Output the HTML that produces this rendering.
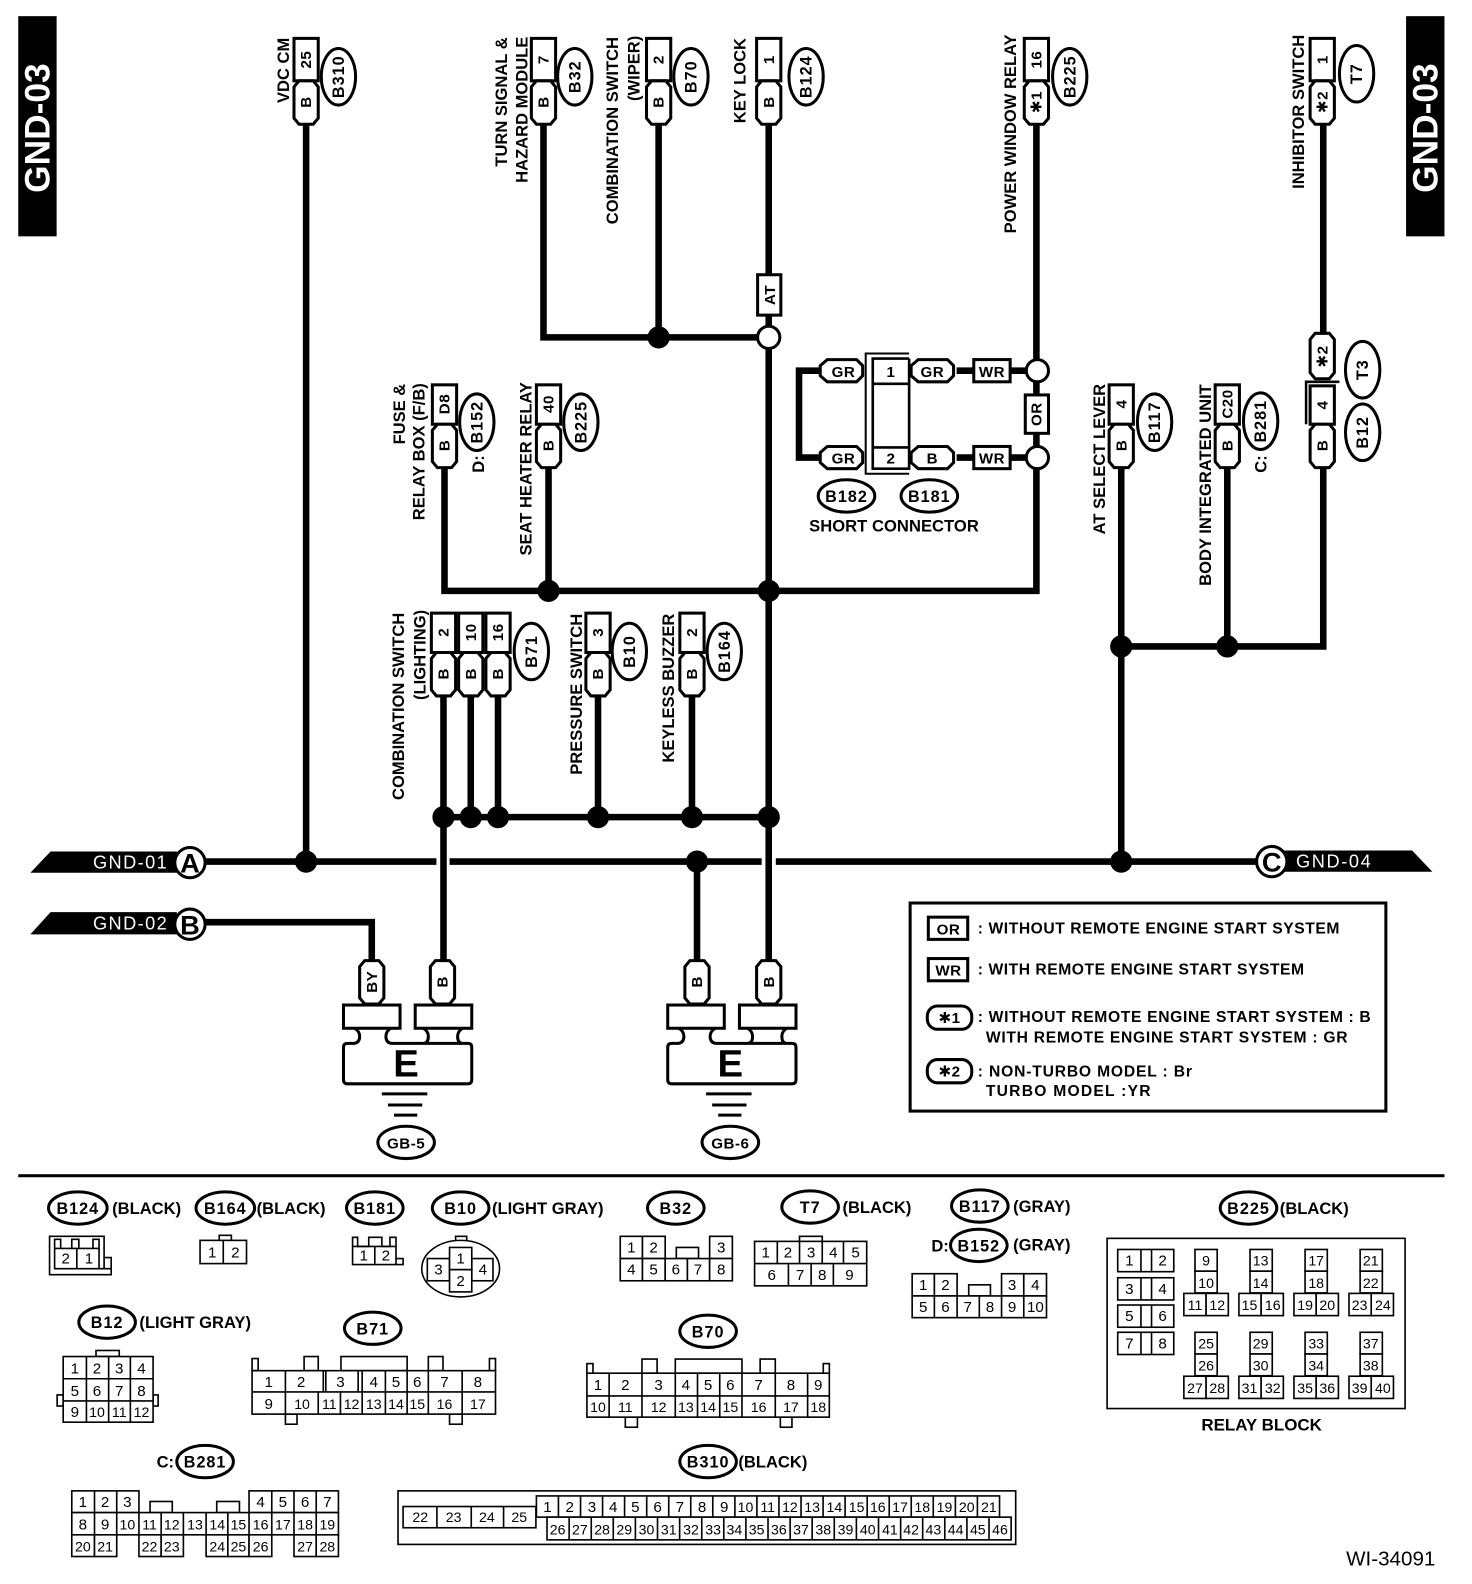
<!DOCTYPE html>
<html><head><meta charset="utf-8"><style>
html,body{margin:0;padding:0;background:#fff}
svg{display:block}
text{font-family:"Liberation Sans","DejaVu Sans",sans-serif;font-weight:bold;font-size:16.4px;fill:#000}
.c{text-anchor:middle}
.b{font-size:15px;letter-spacing:.5px;text-anchor:middle}
.k{font-size:16px;letter-spacing:1px;text-anchor:middle}
.n{font-weight:normal;font-size:15px;text-anchor:middle}
.s{font-weight:normal;font-size:14px;text-anchor:middle}
.w{fill:#fff}
.wr{fill:none;stroke:#000;stroke-width:6.5}
.sh{fill:#fff;stroke:#000;stroke-width:3}
.e{fill:#fff;stroke:#000;stroke-width:3}
.g rect,.g path,.g ellipse{fill:#fff;stroke:#000;stroke-width:1.6}
.g path.o{fill:none}
</style></head><body>
<svg width="1472" height="1584" viewBox="0 0 1457.2 1568.2" xmlns="http://www.w3.org/2000/svg">
<defs>
<path id="p" class="sh" d="M-7 0H7L12 6V37L7 43H-7L-12 37V6Z"/>
<g id="cn"><rect class="sh" x="-12" y="0" width="24" height="42"/><use href="#p" y="42"/></g>
<g id="cn2"><rect class="sh" x="-12" y="0" width="24" height="39"/><use href="#p" y="39"/></g>
<g id="gr">
<path fill="#fff" stroke="#000" stroke-width="3" d="M349 1033H344Q340 1033 340 1037V1069Q340 1073 344 1073H463Q467 1073 467 1069V1037Q467 1033 463 1033H389Q382 1033 382 1026Q382 1021 387 1018M349 1033Q356 1033 356 1026Q356 1021 351 1018M419 1018Q424 1021 424 1026Q424 1033 419 1033M458 1018Q453 1021 453 1026Q453 1033 458 1033"/>
<rect class="sh" x="340" y="995" width="56" height="23"/><rect class="sh" x="411" y="995" width="56" height="23"/>
<path stroke="#000" stroke-width="3" d="M378 1083H423M384 1094H418M390 1104H413"/>
<ellipse class="e" cx="402" cy="1131" rx="28" ry="16"/>
</g>
<g id="rt" class="g"><rect x="11" y="0" width="22" height="21.5"/><rect x="11" y="21.5" width="22" height="21.5"/><rect x="0" y="43.5" width="22" height="22"/><rect x="22" y="43.5" width="22" height="22"/></g>
<g id="rp" class="g"><rect x="0" y="0" width="55.5" height="22"/><path d="M23 0V22M33.500 0V22"/></g>
</defs>

<!-- side tabs -->
<rect x="18" y="16" width="38" height="218" fill="#000"/>
<rect x="1392" y="16" width="38" height="218" fill="#000"/>
<text class="w" style="font-size:35px" transform="translate(49,191)rotate(-90)">GND-03</text>
<text class="w" style="font-size:35px" transform="translate(1423,191)rotate(-90)">GND-03</text>

<!-- wires -->
<g class="wr">
<path d="M303 120V853"/>
<path d="M538 120V334H752"/>
<path d="M652 120V334"/>
<path d="M761 120V950"/>
<path d="M1026 120V585H440V460"/>
<path d="M543 460V585"/>
<path d="M812 367H791V453H812"/>
<path d="M947 367H964M1000 367H1016M947 453H964M1000 453H1016"/>
<path d="M439 688V950"/>
<path d="M466 688V809M493 688V809M592 688V809M685 688V809"/>
<path d="M439 809H761"/>
<path d="M203 853H432M445 853H754M768 853H1245"/>
<path d="M690 853V950"/>
<path d="M1110 460V853M1215 460V640M1310 120V335M1310 460V640H1110"/>
<path d="M203 913H368V950"/>
</g>
<g fill="#000">
<circle cx="303" cy="853" r="11"/><circle cx="652" cy="334" r="11"/><circle cx="543" cy="585" r="11"/><circle cx="761" cy="585" r="11"/>
<circle cx="439" cy="809" r="11"/><circle cx="466" cy="809" r="11"/><circle cx="493" cy="809" r="11"/><circle cx="592" cy="809" r="11"/><circle cx="685" cy="809" r="11"/><circle cx="761" cy="809" r="11"/>
<circle cx="690" cy="853" r="11"/><circle cx="1110" cy="853" r="11"/><circle cx="1110" cy="640" r="11"/><circle cx="1215" cy="640" r="11"/>
</g>
<circle class="sh" cx="761" cy="334" r="11"/><circle class="sh" cx="1027" cy="367" r="11"/><circle class="sh" cx="1027" cy="453" r="11"/>
<rect class="sh" x="750" y="272" width="23" height="40"/>
<text class="b" transform="translate(767,292)rotate(-90)">AT</text>
<rect class="sh" x="1015" y="391" width="23" height="38"/>
<text class="b" transform="translate(1031,410)rotate(-90)">OR</text>

<!-- top connectors -->
<use href="#cn" x="303" y="38"/><use href="#cn" x="538" y="38"/><use href="#cn" x="652" y="38"/><use href="#cn" x="761" y="38"/><use href="#cn" x="1026" y="38"/><use href="#cn" x="1309" y="38"/>
<use href="#cn2" x="440" y="381"/><use href="#cn2" x="543" y="381"/><use href="#cn2" x="1110" y="381"/><use href="#cn2" x="1215" y="381"/>
<use href="#cn2" x="439" y="607"/><use href="#cn2" x="466" y="607"/><use href="#cn2" x="493" y="607"/><use href="#cn2" x="592" y="607"/><use href="#cn2" x="685" y="607"/>
<g>
<text class="b" transform="translate(308,59)rotate(-90)">25</text><text class="b" transform="translate(308,101)rotate(-90)">B</text>
<text class="b" transform="translate(543,59)rotate(-90)">7</text><text class="b" transform="translate(543,101)rotate(-90)">B</text>
<text class="b" transform="translate(657,59)rotate(-90)">2</text><text class="b" transform="translate(657,101)rotate(-90)">B</text>
<text class="b" transform="translate(766,59)rotate(-90)">1</text><text class="b" transform="translate(766,101)rotate(-90)">B</text>
<text class="b" transform="translate(1031,59)rotate(-90)">16</text><text class="b" transform="translate(1031,101)rotate(-90)">✱1</text>
<text class="b" transform="translate(1314,59)rotate(-90)">1</text><text class="b" transform="translate(1314,101)rotate(-90)">✱2</text>
<text class="b" transform="translate(445,400)rotate(-90)">D8</text><text class="b" transform="translate(445,441)rotate(-90)">B</text>
<text class="b" transform="translate(548,400)rotate(-90)">40</text><text class="b" transform="translate(548,441)rotate(-90)">B</text>
<text class="b" transform="translate(1115,400)rotate(-90)">4</text><text class="b" transform="translate(1115,441)rotate(-90)">B</text>
<text class="b" transform="translate(1220,400)rotate(-90)">C20</text><text class="b" transform="translate(1220,441)rotate(-90)">B</text>
<text class="b" transform="translate(444,626)rotate(-90)">2</text><text class="b" transform="translate(444,667)rotate(-90)">B</text>
<text class="b" transform="translate(471,626)rotate(-90)">10</text><text class="b" transform="translate(471,667)rotate(-90)">B</text>
<text class="b" transform="translate(498,626)rotate(-90)">16</text><text class="b" transform="translate(498,667)rotate(-90)">B</text>
<text class="b" transform="translate(597,626)rotate(-90)">3</text><text class="b" transform="translate(597,667)rotate(-90)">B</text>
<text class="b" transform="translate(690,626)rotate(-90)">2</text><text class="b" transform="translate(690,667)rotate(-90)">B</text>
</g>
<!-- T3 / B12 stack -->
<path class="sh" d="M1302 330H1316L1321 336V369L1316 375H1302L1297 369V336Z"/>
<text class="b" transform="translate(1314,353)rotate(-90)">✱2</text>
<path d="M1293 420V378H1326" fill="none" stroke="#000" stroke-width="2.5"/>
<rect class="sh" x="1297" y="382" width="24" height="38"/>
<use href="#p" x="1309" y="420"/>
<text class="b" transform="translate(1314,401)rotate(-90)">4</text><text class="b" transform="translate(1314,441)rotate(-90)">B</text>

<!-- rotated labels -->
<text transform="translate(286,102)rotate(-90)">VDC CM</text>
<text transform="translate(502,165)rotate(-90)">TURN SIGNAL &amp;</text>
<text transform="translate(522,181)rotate(-90)">HAZARD MODULE</text>
<text transform="translate(612,222)rotate(-90)">COMBINATION SWITCH</text>
<text transform="translate(633,100)rotate(-90)">(WIPER)</text>
<text transform="translate(738,122)rotate(-90)">KEY LOCK</text>
<text transform="translate(1006,231)rotate(-90)">POWER WINDOW RELAY</text>
<text transform="translate(1291,187)rotate(-90)">INHIBITOR SWITCH</text>
<text transform="translate(401,440)rotate(-90)">FUSE &amp;</text>
<text transform="translate(420,515)rotate(-90)">RELAY BOX (F/B)</text>
<text transform="translate(526,550)rotate(-90)">SEAT HEATER RELAY</text>
<text transform="translate(400,792)rotate(-90)">COMBINATION SWITCH</text>
<text transform="translate(421,693)rotate(-90)">(LIGHTING)</text>
<text transform="translate(576,767)rotate(-90)">PRESSURE SWITCH</text>
<text transform="translate(667,755)rotate(-90)">KEYLESS BUZZER</text>
<text transform="translate(1094,529)rotate(-90)">AT SELECT LEVER</text>
<text transform="translate(1199,580)rotate(-90)">BODY INTEGRATED UNIT</text>
<text transform="translate(479,468)rotate(-90)">D:</text>
<text transform="translate(1254,468)rotate(-90)">C:</text>

<!-- vertical ellipses -->
<g>
<ellipse class="e" cx="335" cy="76" rx="17" ry="28"/><text class="k" transform="translate(340.500,76)rotate(-90)">B310</text>
<ellipse class="e" cx="569" cy="76" rx="17" ry="28"/><text class="k" transform="translate(574.500,76)rotate(-90)">B32</text>
<ellipse class="e" cx="684" cy="76" rx="17" ry="28"/><text class="k" transform="translate(689.500,76)rotate(-90)">B70</text>
<ellipse class="e" cx="798" cy="76" rx="17" ry="28"/><text class="k" transform="translate(803.500,76)rotate(-90)">B124</text>
<ellipse class="e" cx="1059" cy="76" rx="17" ry="28"/><text class="k" transform="translate(1064.500,76)rotate(-90)">B225</text>
<ellipse class="e" cx="1343" cy="73" rx="17" ry="28"/><text class="k" transform="translate(1348.500,73)rotate(-90)">T7</text>
<ellipse class="e" cx="472" cy="418" rx="17" ry="28"/><text class="k" transform="translate(477.500,418)rotate(-90)">B152</text>
<ellipse class="e" cx="575" cy="418" rx="17" ry="28"/><text class="k" transform="translate(580.500,418)rotate(-90)">B225</text>
<ellipse class="e" cx="526" cy="645" rx="17" ry="28"/><text class="k" transform="translate(531.500,645)rotate(-90)">B71</text>
<ellipse class="e" cx="623" cy="645" rx="17" ry="28"/><text class="k" transform="translate(628.500,645)rotate(-90)">B10</text>
<ellipse class="e" cx="717" cy="645" rx="17" ry="28"/><text class="k" transform="translate(722.500,645)rotate(-90)">B164</text>
<ellipse class="e" cx="1143" cy="418" rx="17" ry="28"/><text class="k" transform="translate(1148.500,418)rotate(-90)">B117</text>
<ellipse class="e" cx="1248" cy="417" rx="17" ry="28"/><text class="k" transform="translate(1253.500,417)rotate(-90)">B281</text>
<ellipse class="e" cx="1349" cy="366" rx="17" ry="28"/><text class="k" transform="translate(1354.500,366)rotate(-90)">T3</text>
<ellipse class="e" cx="1349" cy="428" rx="17" ry="28"/><text class="k" transform="translate(1354.500,428)rotate(-90)">B12</text>
</g>

<!-- short connector -->
<path class="sh" d="M819 356H848L854 362V372L848 378H819L812 372V362Z"/>
<path class="sh" d="M819 442H848L854 448V458L848 464H819L812 458V448Z"/>
<path class="sh" d="M909 356H938L944 362V372L938 378H909L902 372V362Z"/>
<path class="sh" d="M909 442H938L944 448V458L938 464H909L902 458V448Z"/>
<rect class="sh" x="964" y="356" width="36" height="22"/><rect class="sh" x="964" y="442" width="36" height="22"/>
<path d="M900 350H857V469H900" fill="none" stroke="#000" stroke-width="2"/>
<path d="M900 355H864V464H900V355M864 380H900M864 443H900" fill="#fff" stroke="#000" stroke-width="2.6"/>
<text class="b" x="835" y="373">GR</text><text class="b" x="835" y="459">GR</text>
<text class="b" x="882" y="373">1</text><text class="b" x="882" y="459">2</text>
<text class="b" x="923" y="373">GR</text><text class="b" x="923" y="459">B</text>
<text class="b" x="982" y="373">WR</text><text class="b" x="982" y="459">WR</text>
<ellipse class="e" cx="838" cy="491" rx="28" ry="16"/><text class="k" x="838" y="497">B182</text>
<ellipse class="e" cx="920" cy="491" rx="28" ry="16"/><text class="k" x="920" y="497">B181</text>
<text class="c" x="885" y="526" textLength="168">SHORT CONNECTOR</text>

<!-- bus tags -->
<path d="M30 864L50 843H175V864Z" fill="#000"/>
<text class="w" x="92" y="860" textLength="73" style="font-weight:normal;font-size:18px">GND-01</text>
<circle class="sh" cx="188" cy="854" r="15"/><text class="c" x="188" y="864" style="font-size:27px">A</text>
<path d="M30 925L50 903H175V925Z" fill="#000"/>
<text class="w" x="92" y="920" textLength="73" style="font-weight:normal;font-size:18px">GND-02</text>
<circle class="sh" cx="188" cy="915" r="15"/><text class="c" x="188" y="925" style="font-size:27px">B</text>
<path d="M1265 842H1398L1418 863H1265Z" fill="#000"/>
<text class="w" x="1283" y="859" textLength="74" style="font-weight:normal;font-size:18px">GND-04</text>
<circle class="sh" cx="1259" cy="853" r="15"/><text class="c" x="1259" y="863" style="font-size:27px">C</text>

<!-- grounds -->
<use href="#gr"/><use href="#gr" x="321"/>
<use href="#p" x="368" y="951"/><use href="#p" x="438" y="951"/><use href="#p" x="690" y="951"/><use href="#p" x="761" y="951"/>
<text class="b" transform="translate(373,972)rotate(-90)">BY</text>
<text class="b" transform="translate(443,972)rotate(-90)">B</text>
<text class="b" transform="translate(695,972)rotate(-90)">B</text>
<text class="b" transform="translate(766,972)rotate(-90)">B</text>
<text class="c" x="402" y="1066" style="font-size:38px">E</text>
<text class="c" x="723" y="1066" style="font-size:38px">E</text>
<text class="b" x="402" y="1137">GB-5</text>
<text class="b" x="723" y="1137">GB-6</text>

<!-- legend -->
<rect x="901" y="894" width="471" height="206" fill="#fff" stroke="#000" stroke-width="3"/>
<rect class="sh" x="919" y="908" width="39" height="22"/><text class="b" x="939" y="925">OR</text>
<rect class="sh" x="919" y="949" width="39" height="22"/><text class="b" x="939" y="966">WR</text>
<rect class="sh" x="918" y="996" width="44" height="23" rx="10"/><text class="b" x="940" y="1013">✱1</text>
<rect class="sh" x="918" y="1049" width="44" height="23" rx="10"/><text class="b" x="940" y="1066">✱2</text>
<text x="968" y="924" textLength="358" style="font-size:15.500px">: WITHOUT REMOTE ENGINE START SYSTEM</text>
<text x="968" y="965" textLength="323" style="font-size:15.500px">: WITH REMOTE ENGINE START SYSTEM</text>
<text x="968" y="1012" textLength="389" style="font-size:15.500px">: WITHOUT REMOTE ENGINE START SYSTEM  : B</text>
<text x="976" y="1032" textLength="358" style="font-size:15.500px">WITH REMOTE ENGINE START SYSTEM  : GR</text>
<text x="968" y="1066" textLength="212" style="font-size:15.500px">: NON-TURBO MODEL  : Br</text>
<text x="976" y="1085" textLength="163" style="font-size:15.500px">TURBO MODEL  :YR</text>

<rect x="18" y="1162.500" width="1412" height="3" fill="#000"/>

<!-- bottom labels -->
<ellipse class="e" cx="77" cy="1196" rx="29" ry="16"/><text class="k" x="77" y="1202">B124</text><text x="111" y="1202">(BLACK)</text>
<ellipse class="e" cx="223" cy="1196" rx="29" ry="16"/><text class="k" x="223" y="1202">B164</text><text x="254" y="1202">(BLACK)</text>
<ellipse class="e" cx="371" cy="1196" rx="28" ry="16"/><text class="k" x="371" y="1202">B181</text>
<ellipse class="e" cx="456" cy="1196" rx="28" ry="16"/><text class="k" x="456" y="1202">B10</text><text x="487" y="1202">(LIGHT GRAY)</text>
<ellipse class="e" cx="669" cy="1196" rx="28" ry="16"/><text class="k" x="669" y="1202">B32</text>
<ellipse class="e" cx="802" cy="1195" rx="28" ry="16"/><text class="k" x="802" y="1201">T7</text><text x="834" y="1201">(BLACK)</text>
<ellipse class="e" cx="970" cy="1194" rx="28" ry="16"/><text class="k" x="970" y="1200">B117</text><text x="1003" y="1200">(GRAY)</text>
<text x="922" y="1239">D:</text><ellipse class="e" cx="969" cy="1233" rx="28" ry="16"/><text class="k" x="969" y="1239">B152</text><text x="1003" y="1238">(GRAY)</text>
<ellipse class="e" cx="1236" cy="1196" rx="28" ry="16"/><text class="k" x="1236" y="1202">B225</text><text x="1267" y="1202">(BLACK)</text>
<ellipse class="e" cx="106" cy="1309" rx="28" ry="16"/><text class="k" x="106" y="1315">B12</text><text x="138" y="1315">(LIGHT GRAY)</text>
<ellipse class="e" cx="369" cy="1315" rx="28" ry="16"/><text class="k" x="369" y="1321">B71</text>
<ellipse class="e" cx="701" cy="1318" rx="28" ry="16"/><text class="k" x="701" y="1324">B70</text>
<text x="155" y="1453">C:</text><ellipse class="e" cx="203" cy="1447" rx="28" ry="16"/><text class="k" x="203" y="1453">B281</text>
<ellipse class="e" cx="701" cy="1447" rx="28" ry="16"/><text class="k" x="701" y="1453">B310</text><text x="731" y="1453">(BLACK)</text>
<text class="c" x="1249" y="1416" style="font-size:16.800px">RELAY BLOCK</text>
<text x="1421" y="1550" style="font-weight:normal;font-size:20.400px;text-anchor:end">WI-34091</text>

<!-- B124 -->
<g class="g">
<path d="M49 1224H103V1245H110V1262H49Z"/>
<path class="o" d="M54 1236V1227H60V1236M71 1236V1227H78V1236M92 1236V1227H98V1236M98 1236V1256H110M98 1256H54V1236H98M76 1236V1256M103 1245V1256"/>
</g>
<text class="n" x="65" y="1251">2</text><text class="n" x="88" y="1251">1</text>
<!-- B164 -->
<g class="g"><rect x="217" y="1223" width="12" height="6"/><rect x="198" y="1228" width="46" height="23"/><path d="M221 1228V1251"/></g>
<text class="n" x="210" y="1245">1</text><text class="n" x="233" y="1245">2</text>
<!-- B181 -->
<g class="g"><path d="M349 1225H354V1234H365V1225H378V1234H386V1225H392V1246H399V1252H349Z"/><path class="o" d="M349 1234H392M371 1234V1252M392 1246V1252"/></g>
<text class="n" x="360" y="1248">1</text><text class="n" x="382" y="1248">2</text>
<!-- B10 -->
<g class="g"><rect x="451" y="1224" width="11" height="6"/><ellipse cx="456" cy="1256" rx="38.500" ry="28"/><rect x="423" y="1246" width="22" height="22"/><rect x="467" y="1246" width="21" height="22"/><rect x="445" y="1235" width="22" height="22"/><rect x="445" y="1257" width="22" height="22"/></g>
<text class="n" x="434" y="1262">3</text><text class="n" x="456" y="1251">1</text><text class="n" x="456" y="1273">2</text><text class="n" x="478" y="1262">4</text>
<!-- B32 -->
<g class="g"><rect x="669.500" y="1235" width="22" height="11"/><rect x="614" y="1224" width="22" height="22"/><rect x="636" y="1224" width="22.500" height="22"/><rect x="702.500" y="1224" width="22.500" height="22"/>
<rect x="614" y="1246" width="22" height="22"/><rect x="636" y="1246" width="22.500" height="22"/><rect x="658.500" y="1246" width="22" height="22"/><rect x="680.500" y="1246" width="22" height="22"/><rect x="702.500" y="1246" width="22.500" height="22"/></g>
<text class="n" x="625" y="1240">1</text><text class="n" x="647" y="1240">2</text><text class="n" x="714" y="1240">3</text><text class="n" x="625" y="1262">4</text><text class="n" x="647" y="1262">5</text><text class="n" x="669" y="1262">6</text><text class="n" x="691" y="1262">7</text><text class="n" x="714" y="1262">8</text>
<!-- T7 -->
<g class="g"><rect x="791.500" y="1224" width="22.500" height="6"/><rect x="747" y="1229" width="111" height="44"/><path d="M747 1251H858M769.500 1229V1251M791.500 1229V1251M814 1229V1251M835 1229V1251M780.500 1251V1273M803 1251V1273M825 1251V1273"/></g>
<text class="n" x="758" y="1245">1</text><text class="n" x="780" y="1245">2</text><text class="n" x="803" y="1245">3</text><text class="n" x="825" y="1245">4</text><text class="n" x="847" y="1245">5</text>
<text class="n" x="764" y="1267">6</text><text class="n" x="792" y="1267">7</text><text class="n" x="814" y="1267">8</text><text class="n" x="841" y="1267">9</text>
<!-- B152 -->
<g class="g"><rect x="959" y="1272" width="21.500" height="11"/><rect x="903" y="1261" width="22" height="22"/><rect x="925" y="1261" width="22.500" height="22"/><rect x="991.500" y="1261" width="22" height="22"/><rect x="1013.500" y="1261" width="22.500" height="22"/>
<rect x="903" y="1283" width="133" height="21.500"/><path d="M925 1283V1304.500M947.500 1283V1304.500M969.500 1283V1304.500M991.500 1283V1304.500M1013.500 1283V1304.500"/></g>
<text class="n" x="914" y="1277">1</text><text class="n" x="936" y="1277">2</text><text class="n" x="1002" y="1277">3</text><text class="n" x="1025" y="1277">4</text>
<text class="n" x="914" y="1299">5</text><text class="n" x="936" y="1299">6</text><text class="n" x="958" y="1299">7</text><text class="n" x="980" y="1299">8</text><text class="n" x="1002" y="1299">9</text><text class="n" x="1025" y="1299">10</text>
<!-- Relay block -->
<g class="g"><rect x="1096" y="1226" width="295" height="168.500"/></g>
<use href="#rp" x="1106.500" y="1237"/><use href="#rp" x="1106.500" y="1265"/><use href="#rp" x="1106.500" y="1292"/><use href="#rp" x="1106.500" y="1319"/>
<use href="#rt" x="1172" y="1237"/><use href="#rt" x="1226.500" y="1237"/><use href="#rt" x="1281" y="1237"/><use href="#rt" x="1335.500" y="1237"/>
<use href="#rt" x="1172" y="1319"/><use href="#rt" x="1226.500" y="1319"/><use href="#rt" x="1281" y="1319"/><use href="#rt" x="1335.500" y="1319"/>
<text class="n" x="1118" y="1253">1</text><text class="n" x="1151" y="1253">2</text><text class="n" x="1118" y="1281">3</text><text class="n" x="1151" y="1281">4</text><text class="n" x="1118" y="1308">5</text><text class="n" x="1151" y="1308">6</text><text class="n" x="1118" y="1335">7</text><text class="n" x="1151" y="1335">8</text>
<g>
<text class="s" x="1194" y="1253">9</text><text class="s" x="1194" y="1275">10</text><text class="s" x="1183" y="1297">11</text><text class="s" x="1205" y="1297">12</text>
<text class="s" x="1248" y="1253">13</text><text class="s" x="1248" y="1275">14</text><text class="s" x="1237" y="1297">15</text><text class="s" x="1260" y="1297">16</text>
<text class="s" x="1303" y="1253">17</text><text class="s" x="1303" y="1275">18</text><text class="s" x="1292" y="1297">19</text><text class="s" x="1314" y="1297">20</text>
<text class="s" x="1357" y="1253">21</text><text class="s" x="1357" y="1275">22</text><text class="s" x="1346" y="1297">23</text><text class="s" x="1369" y="1297">24</text>
<text class="s" x="1194" y="1335">25</text><text class="s" x="1194" y="1357">26</text><text class="s" x="1183" y="1379">27</text><text class="s" x="1205" y="1379">28</text>
<text class="s" x="1248" y="1335">29</text><text class="s" x="1248" y="1357">30</text><text class="s" x="1237" y="1379">31</text><text class="s" x="1260" y="1379">32</text>
<text class="s" x="1303" y="1335">33</text><text class="s" x="1303" y="1357">34</text><text class="s" x="1292" y="1379">35</text><text class="s" x="1314" y="1379">36</text>
<text class="s" x="1357" y="1335">37</text><text class="s" x="1357" y="1357">38</text><text class="s" x="1346" y="1379">39</text><text class="s" x="1369" y="1379">40</text>
</g>
<!-- B12 -->
<g class="g"><rect x="95" y="1337" width="23" height="6"/><rect x="56.500" y="1381" width="6" height="11"/><rect x="151.500" y="1381" width="5" height="11"/><rect x="62.500" y="1343" width="89" height="65"/><path d="M62.500 1365H151.500M62.500 1387H151.500M85.500 1343V1408M107.500 1343V1408M129 1343V1408"/></g>
<text class="n" x="74" y="1360">1</text><text class="n" x="96" y="1360">2</text><text class="n" x="118" y="1360">3</text><text class="n" x="140" y="1360">4</text>
<text class="n" x="74" y="1382">5</text><text class="n" x="96" y="1382">6</text><text class="n" x="118" y="1382">7</text><text class="n" x="140" y="1382">8</text>
<text class="n" x="74" y="1403">9</text><text class="s" x="96" y="1403">10</text><text class="s" x="118" y="1403">11</text><text class="s" x="140" y="1403">12</text>
<!-- B71 -->
<g class="g"><rect x="249.500" y="1345" width="6" height="12"/><rect x="484.500" y="1345" width="6" height="12"/><rect x="301" y="1343" width="14" height="14"/><rect x="337.500" y="1343" width="65.500" height="14"/><rect x="424" y="1343" width="14.500" height="14"/>
<rect x="282.500" y="1400" width="11.500" height="10"/><rect x="445" y="1400" width="12.500" height="10"/>
<rect x="249.500" y="1357" width="241" height="43"/>
<path d="M249.500 1378H490.500M282.500 1357V1400M320 1357V1378M322.500 1357V1378M354.500 1357V1378M358.500 1357V1400M381.500 1357V1400M403 1357V1400M424 1357V1400M457.500 1357V1400M315 1378V1400M337 1378V1400"/></g>
<text class="n" x="266" y="1373">1</text><text class="n" x="298" y="1373">2</text><text class="n" x="337" y="1373">3</text><text class="n" x="370" y="1373">4</text><text class="n" x="392" y="1373">5</text><text class="n" x="413" y="1373">6</text><text class="n" x="440" y="1373">7</text><text class="n" x="473" y="1373">8</text>
<text class="n" x="266" y="1395">9</text><text class="s" x="299" y="1395">10</text><text class="s" x="326" y="1395">11</text><text class="s" x="348" y="1395">12</text><text class="s" x="370" y="1395">13</text><text class="s" x="392" y="1395">14</text><text class="s" x="413" y="1395">15</text><text class="s" x="440" y="1395">16</text><text class="s" x="473" y="1395">17</text>
<!-- B70 -->
<g class="g"><rect x="581" y="1350" width="6" height="10"/><rect x="815" y="1350" width="6" height="10"/><rect x="635.500" y="1345.500" width="15" height="14"/><rect x="668.500" y="1345.500" width="66" height="14"/><rect x="752.500" y="1345.500" width="15" height="14"/>
<rect x="619" y="1403" width="12" height="10"/><rect x="772.500" y="1403" width="11.500" height="10"/>
<rect x="581" y="1359.500" width="240" height="43.500"/>
<path d="M581 1382H821M603 1359.500V1403M635.500 1359.500V1403M668.500 1359.500V1403M690.500 1359.500V1403M712.500 1359.500V1403M734.500 1359.500V1403M767.500 1359.500V1403M799.500 1359.500V1403"/></g>
<text class="n" x="592" y="1376">1</text><text class="n" x="619" y="1376">2</text><text class="n" x="652" y="1376">3</text><text class="n" x="679" y="1376">4</text><text class="n" x="701" y="1376">5</text><text class="n" x="723" y="1376">6</text><text class="n" x="751" y="1376">7</text><text class="n" x="783" y="1376">8</text><text class="n" x="810" y="1376">9</text>
<text class="s" x="592" y="1398">10</text><text class="s" x="619" y="1398">11</text><text class="s" x="652" y="1398">12</text><text class="s" x="679" y="1398">13</text><text class="s" x="701" y="1398">14</text><text class="s" x="723" y="1398">15</text><text class="s" x="751" y="1398">16</text><text class="s" x="783" y="1398">17</text><text class="s" x="810" y="1398">18</text>
<!-- B281 -->
<g class="g"><rect x="148.500" y="1486.500" width="22" height="11"/><rect x="214.500" y="1486.500" width="22.500" height="11"/>
<rect x="71" y="1476" width="66.500" height="21.500"/><rect x="246.500" y="1476" width="88.500" height="21.500"/>
<path d="M93.500 1476V1497.500M115.500 1476V1497.500M269 1476V1497.500M291 1476V1497.500M313 1476V1497.500"/>
<rect x="71" y="1497.500" width="264" height="22"/><path d="M93.500 1497.500V1519.500M115.500 1497.500V1519.500M137.500 1497.500V1519.500M159.500 1497.500V1519.500M181.500 1497.500V1519.500M204 1497.500V1519.500M225.500 1497.500V1519.500M246.500 1497.500V1519.500M269 1497.500V1519.500M291 1497.500V1519.500M313 1497.500V1519.500"/>
<rect x="71" y="1519.500" width="22.500" height="21.500"/><rect x="93.500" y="1519.500" width="22" height="21.500"/><rect x="137.500" y="1519.500" width="22" height="21.500"/><rect x="159.500" y="1519.500" width="22" height="21.500"/><rect x="204" y="1519.500" width="21.500" height="21.500"/><rect x="225.500" y="1519.500" width="21" height="21.500"/><rect x="246.500" y="1519.500" width="22.500" height="21.500"/><rect x="291" y="1519.500" width="22" height="21.500"/><rect x="313" y="1519.500" width="22" height="21.500"/></g>
<text class="n" x="82" y="1492">1</text><text class="n" x="104" y="1492">2</text><text class="n" x="126" y="1492">3</text><text class="n" x="258" y="1492">4</text><text class="n" x="280" y="1492">5</text><text class="n" x="302" y="1492">6</text><text class="n" x="324" y="1492">7</text>
<text class="n" x="82" y="1514">8</text><text class="n" x="104" y="1514">9</text><text class="s" x="126" y="1514">10</text><text class="s" x="148" y="1514">11</text><text class="s" x="170" y="1514">12</text><text class="s" x="193" y="1514">13</text><text class="s" x="215" y="1514">14</text><text class="s" x="236" y="1514">15</text><text class="s" x="258" y="1514">16</text><text class="s" x="280" y="1514">17</text><text class="s" x="302" y="1514">18</text><text class="s" x="324" y="1514">19</text>
<text class="s" x="82" y="1536">20</text><text class="s" x="104" y="1536">21</text><text class="s" x="148" y="1536">22</text><text class="s" x="170" y="1536">23</text><text class="s" x="215" y="1536">24</text><text class="s" x="236" y="1536">25</text><text class="s" x="258" y="1536">26</text><text class="s" x="302" y="1536">27</text><text class="s" x="324" y="1536">28</text>
<!-- B310 -->
<g class="g"><rect x="394" y="1476" width="611.500" height="53"/>
<rect x="399" y="1491.500" width="131.500" height="21"/><path d="M432.500 1491.500V1512.500M466.500 1491.500V1512.500M498.500 1491.500V1512.500"/>
<rect x="531" y="1481" width="458.500" height="21"/><path d="M552.800 1481V1502M574.700 1481V1502M596.500 1481V1502M618.300 1481V1502M640.200 1481V1502M662 1481V1502M683.800 1481V1502M705.600 1481V1502M727.500 1481V1502M749.300 1481V1502M771.100 1481V1502M793 1481V1502M814.800 1481V1502M836.600 1481V1502M858.500 1481V1502M880.300 1481V1502M902.100 1481V1502M923.900 1481V1502M945.800 1481V1502M967.600 1481V1502"/>
<rect x="541.500" y="1502" width="459.500" height="22.500"/><path d="M563.400 1502V1524.500M585.300 1502V1524.500M607.100 1502V1524.500M629 1502V1524.500M650.900 1502V1524.500M672.800 1502V1524.500M694.700 1502V1524.500M716.500 1502V1524.500M738.400 1502V1524.500M760.300 1502V1524.500M782.200 1502V1524.500M804 1502V1524.500M825.900 1502V1524.500M847.800 1502V1524.500M869.700 1502V1524.500M891.600 1502V1524.500M913.400 1502V1524.500M935.300 1502V1524.500M957.200 1502V1524.500M979.100 1502V1524.500"/></g>
<text class="s" x="416" y="1507">22</text><text class="s" x="449" y="1507">23</text><text class="s" x="482" y="1507">24</text><text class="s" x="514" y="1507">25</text>
<text class="n" x="542" y="1497">1</text><text class="n" x="564" y="1497">2</text><text class="n" x="586" y="1497">3</text><text class="n" x="607" y="1497">4</text><text class="n" x="629" y="1497">5</text><text class="n" x="651" y="1497">6</text><text class="n" x="673" y="1497">7</text><text class="n" x="695" y="1497">8</text><text class="n" x="717" y="1497">9</text><text class="s" x="738" y="1497">10</text><text class="s" x="760" y="1497">11</text><text class="s" x="782" y="1497">12</text><text class="s" x="804" y="1497">13</text><text class="s" x="826" y="1497">14</text><text class="s" x="848" y="1497">15</text><text class="s" x="869" y="1497">16</text><text class="s" x="891" y="1497">17</text><text class="s" x="913" y="1497">18</text><text class="s" x="935" y="1497">19</text><text class="s" x="957" y="1497">20</text><text class="s" x="979" y="1497">21</text>
<text class="s" x="552" y="1519">26</text><text class="s" x="574" y="1519">27</text><text class="s" x="596" y="1519">28</text><text class="s" x="618" y="1519">29</text><text class="s" x="640" y="1519">30</text><text class="s" x="662" y="1519">31</text><text class="s" x="684" y="1519">32</text><text class="s" x="706" y="1519">33</text><text class="s" x="727" y="1519">34</text><text class="s" x="749" y="1519">35</text><text class="s" x="771" y="1519">36</text><text class="s" x="793" y="1519">37</text><text class="s" x="815" y="1519">38</text><text class="s" x="837" y="1519">39</text><text class="s" x="859" y="1519">40</text><text class="s" x="881" y="1519">41</text><text class="s" x="902" y="1519">42</text><text class="s" x="924" y="1519">43</text><text class="s" x="946" y="1519">44</text><text class="s" x="968" y="1519">45</text><text class="s" x="990" y="1519">46</text>
</svg>
</body></html>
